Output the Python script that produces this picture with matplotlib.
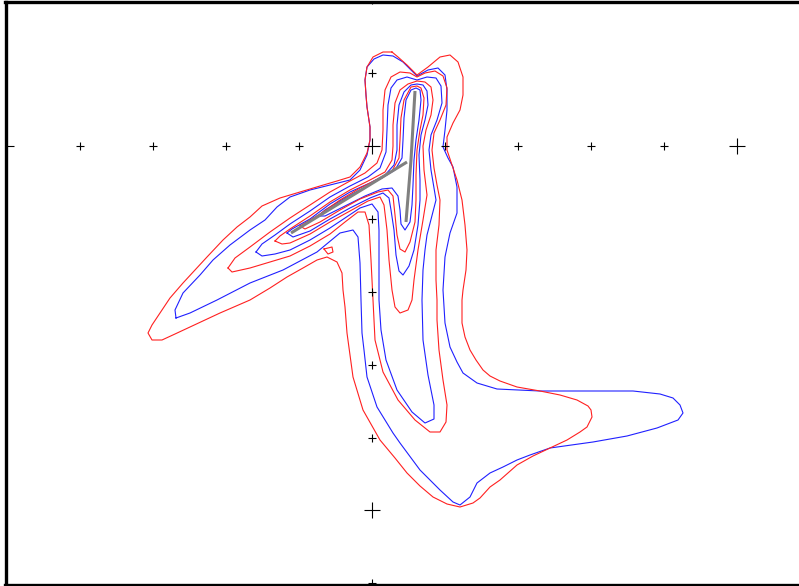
import matplotlib
matplotlib.use("Agg")
import matplotlib.pyplot as plt

W, H = 799, 586

# Contour traces, in picture units (x right, y down);
# converted to chart units (one tick step = 1, origin at the axis cross).
def to_x(p):
    return [(v - 372) / 73.1 for v in p]

def to_y(p):
    return [(146 - v) / 72.9 for v in p]

red1 = [(392,52),(383,52),(373,57),(367,67),(365,80),(366,95),(367,107),(370,127),(370,140),(367,153),(360,167),(350,177),(337,181),(320,186),(300,192),(280,198),(262,206),(250,217),(237,227),(223,240),(207,257),(195,270),(183,283),(170,298),(160,313),(152,325),(148,333),(152,340),(162,340),(175,334),(190,327),(205,320),(220,313),(250,300),(270,288),(287,277),(303,268),(317,260),(327,257),(337,262),(342,273),(343,290),(345,307),(347,333),(353,377),(363,410),(380,440),(395,458),(407,473),(420,486),(433,497),(447,504),(460,507),(473,503),(480,498),(490,487),(500,480),(517,465),(533,456),(550,448),(567,440),(580,432),(587,427),(592,417),(591,410),(588,406),(577,400),(560,395),(540,391),(517,387),(500,381),(490,376),(483,370),(476,360),(470,350),(465,337),(462,323),(462,300),(463,290),(466,270),(467,250),(465,225),(462,200),(457,180),(452,165),(447,150),(447,137),(453,123),(460,110),(463,95),(463,77),(458,62),(450,55),(440,57),(428,67),(417,75),(407,65),(398,57),(392,52)]

blue1 = [(176,318),(175,310),(183,293),(200,275),(213,260),(230,245),(250,230),(265,220),(277,207),(290,197),(310,190),(330,185),(350,180),(360,170),(367,155),(370,140),(370,127),(367,107),(366,95),(365,80),(367,67),(374,59),(383,55),(393,56),(403,62),(417,76),(428,70),(438,68),(445,75),(447,90),(447,110),(445,130),(443,147),(448,158),(453,167),(457,187),(457,213),(450,233),(445,257),(443,290),(445,323),(450,347),(457,362),(463,373),(477,383),(497,389),(540,391),(633,391),(660,394),(673,398),(680,405),(683,413),(678,420),(657,428),(627,436),(593,442),(550,448),(530,455),(517,460),(503,467),(490,473),(477,483),(470,497),(460,505),(453,502),(440,490),(420,470),(400,443),(393,433),(377,407),(367,377),(364,350),(362,333),(361,300),(360,263),(358,237),(353,230),(340,233),(317,252),(283,270),(250,283),(217,300),(190,313),(176,318)]

red2 = [(228,268),(235,258),(250,247),(270,232),(290,218),(310,205),(330,192),(350,181),(365,173),(377,163),(382,150),(383,130),(383,110),(385,90),(391,77),(400,72),(410,73),(417,77),(425,73),(435,71),(443,76),(447,88),(446,105),(440,120),(434,133),(432,150),(434,168),(437,185),(440,200),(439,225),(436,250),(436,280),(437,300),(437,320),(439,350),(443,380),(447,405),(446,422),(440,432),(430,432),(415,420),(398,400),(383,372),(375,340),(373,300),(371,260),(369,225),(365,212),(358,212),(345,222),(330,234),(310,246),(290,256),(270,262),(250,268),(232,272),(228,268)]

blue2 = [(256,252),(262,244),(275,235),(290,224),(310,211),(330,197),(350,186),(368,177),(380,168),(386,152),(387,130),(388,105),(391,88),(397,80),(407,77),(417,80),(427,77),(436,78),(441,86),(442,103),(437,120),(431,135),(429,150),(431,170),(436,200),(427,235),(425,250),(423,270),(422,300),(423,340),(428,375),(434,405),(434,419),(425,423),(412,412),(397,390),(386,360),(381,330),(379,300),(379,260),(379,230),(378,212),(372,204),(360,208),(345,218),(330,228),(310,240),(290,250),(275,254),(262,256),(256,252)]

red3 = [(275,241),(280,236),(290,229),(310,216),(330,202),(350,190),(370,180),(385,172),(392,160),(393,146),(393,125),(395,103),(400,90),(408,84),(417,81),(425,82),(431,87),(433,100),(431,115),(426,130),(423,146),(424,170),(427,195),(423,220),(418,250),(414,280),(412,300),(408,310),(400,313),(395,307),(392,290),(389,260),(387,230),(384,205),(380,197),(368,201),(350,211),(330,222),(310,234),(290,243),(282,244),(275,241)]

blue3 = [(287,233),(292,229),(310,219),(330,204),(350,192),(370,183),(385,175),(394,165),(397,150),(397,125),(399,105),(404,92),(411,85),(417,84),(423,85),(427,91),(428,105),(425,120),(421,135),(419,155),(420,180),(420,200),(418,225),(414,250),(409,266),(403,275),(399,271),(396,255),(394,230),(391,210),(389,198),(383,193),(370,198),(350,208),(330,219),(310,231),(293,237),(287,233)]

red4 = [(300,226),(305,223),(320,214),(340,200),(360,188),(378,179),(392,171),(399,158),(400,140),(401,118),(404,100),(411,87),(417,86),(421,88),(424,98),(423,115),(420,130),(417,150),(416,175),(416,200),(415,222),(410,242),(405,252),(400,249),(397,235),(395,215),(393,196),(388,190),(378,192),(360,199),(340,210),(320,222),(305,229),(300,226)]

blue4 = [(318,216),(325,210),(345,198),(365,187),(382,178),(395,170),(402,158),(403,140),(404,118),(406,100),(411,90),(416,88),(420,90),(421,100),(419,120),(416,140),(414,160),(413,185),(412,205),(410,222),(405,230),(401,224),(400,210),(398,196),(392,188),(382,189),(365,196),(345,206),(325,216),(318,216)]

red_small = [(324,249),(332,247),(333,252),(328,254),(324,249)]

skeleton_arm = [(291,233),(407,162)]
skeleton_stem = [(415,91),(411,160),(406,222)]

red_contours = [red1, red2, red3, red4, red_small]
blue_contours = [blue1, blue2, blue3, blue4]

x_ticks = [-4, -3, -2, -1, 1, 2, 3, 4]
y_ticks = [1, -1, -2, -3, -4]
major_x = [5]
major_y = [-5]

fig = plt.figure(figsize=(W/100, H/100), dpi=100)
ax = fig.add_axes([5.5 / W, 1.5 / H, 1.0, (584.5 - 1.5) / H])
ax.set_xlim((5.5 - 372) / 73.1, (5.5 + W - 372) / 73.1)
ax.set_ylim((146 - 584.5) / 72.9, (146 - 1.5) / 72.9)
for s in ['left', 'top', 'bottom']:
    ax.spines[s].set_linewidth(2.4)
ax.spines['right'].set_visible(False)
ax.set_xticks([]); ax.set_yticks([])

lw = 0.8
for c in blue_contours:
    ax.plot(to_x([p[0] for p in c]), to_y([p[1] for p in c]), color='#2020ff', lw=lw)
for c in red_contours:
    ax.plot(to_x([p[0] for p in c]), to_y([p[1] for p in c]), color='#ff2020', lw=lw)
for sk in (skeleton_arm, skeleton_stem):
    ax.plot(to_x([p[0] for p in sk]), to_y([p[1] for p in sk]), color='#808080',
            lw=2.2, solid_capstyle='butt')

ax.plot(x_ticks, [0]*len(x_ticks), ls='none', marker='+', ms=5.5, mew=0.8, color='black')
ax.plot([0]*len(y_ticks), y_ticks, ls='none', marker='+', ms=5.5, mew=0.8, color='black')
ax.plot([0] + major_x + [0], [0, 0] + major_y, ls='none', marker='+', ms=12, mew=0.8, color='black')
ax.plot([0, 0], [-6, 2], ls='none', marker='+', ms=5.5, mew=0.8, color='black', clip_on=True)
ax.plot([-5], [0], ls='none', marker='+', ms=12, mew=0.8, color='black')

fig.savefig('out.png', dpi=100)
